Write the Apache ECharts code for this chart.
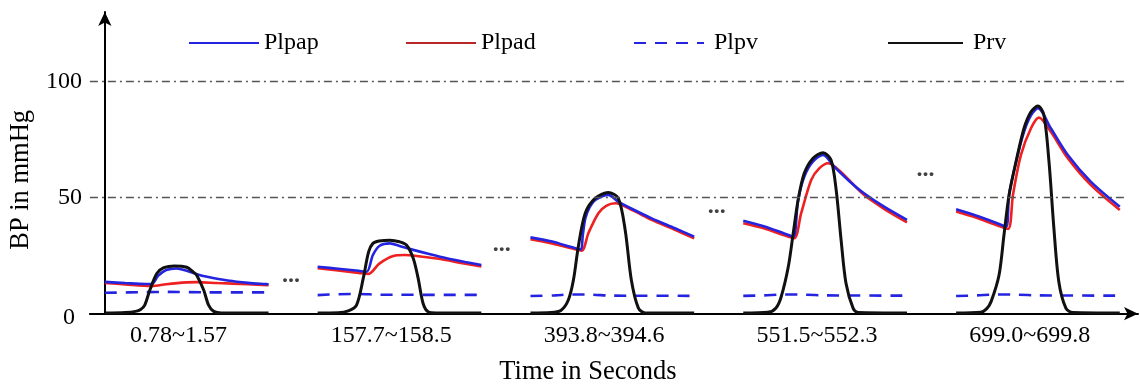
<!DOCTYPE html>
<html>
<head>
<meta charset="utf-8">
<script src="https://cdn.jsdelivr.net/npm/echarts@6/dist/echarts.min.js"></script>
<style>
  html, body { margin: 0; padding: 0; background: #fff; }
  #chart { width: 1140px; height: 391px; }
</style>
</head>
<body>
<div id="chart"></div>
<script>
// one label per recorded beat window (seconds)
const segLabels = ['0.78~1.57', '157.7~158.5', '393.8~394.6', '551.5~552.3', '699.0~699.8']
const yTicks = [0, 50, 100]
const gridValues = [50, 100]

// [time within window (s), mmHg], one list per window
const prv = [
  [[0, 0.3], [0.1, 0.5], [0.15, 1.0], [0.175, 1.8], [0.195, 3.7], [0.22, 10.2], [0.254, 17.3], [0.288, 19.8], [0.34, 20.6], [0.4, 20], [0.434, 17.8], [0.449, 16.6], [0.483, 10.2], [0.507, 3.7], [0.532, 1.0], [0.57, 0.3], [0.8, 0.3]],
  [[0, 0.3], [0.1, 0.4], [0.15, 1.2], [0.19, 3.7], [0.223, 15.3], [0.249, 26.6], [0.27, 30.3], [0.3, 31.3], [0.353, 31.7], [0.4, 31], [0.434, 29.6], [0.467, 23.9], [0.491, 15.3], [0.515, 4.5], [0.54, 0.8], [0.58, 0.3], [0.8, 0.3]],
  [[0, 0.3], [0.1, 0.5], [0.15, 1.5], [0.185, 5.9], [0.21, 14.5], [0.234, 29], [0.268, 43.4], [0.317, 49.8], [0.38, 52.2], [0.429, 49.8], [0.463, 36], [0.493, 14.5], [0.527, 2.5], [0.561, 0.3], [0.8, 0.3]],
  [[0, 0.3], [0.12, 0.6], [0.16, 2.5], [0.185, 7.2], [0.22, 20.2], [0.244, 34.6], [0.268, 49], [0.298, 60.5], [0.341, 67], [0.39, 69.4], [0.429, 66.2], [0.454, 53.3], [0.478, 31.8], [0.502, 13.1], [0.537, 2.3], [0.561, 0.5], [0.8, 0.3]],
  [[0, 0.3], [0.12, 0.6], [0.15, 2.2], [0.171, 5.2], [0.21, 16.7], [0.234, 33.9], [0.259, 51.2], [0.293, 65.5], [0.332, 79.9], [0.366, 87], [0.4, 89.5], [0.429, 85.6], [0.454, 65.5], [0.478, 36.8], [0.502, 13.8], [0.537, 2.3], [0.571, 0.5], [0.8, 0.3]],
]
const plpap = [
  [[0, 13.7], [0.1, 13.2], [0.2, 12.8], [0.23, 12.8], [0.26, 16.3], [0.3, 18.8], [0.35, 19.5], [0.4, 18.5], [0.45, 17], [0.5, 15.9], [0.6, 14.3], [0.7, 13.3], [0.8, 12.7]],
  [[0, 20.2], [0.1, 19.4], [0.2, 18.5], [0.24, 18.1], [0.27, 25.3], [0.303, 29.3], [0.353, 30.3], [0.4, 29.2], [0.467, 27.5], [0.55, 25.6], [0.63, 23.9], [0.72, 22.3], [0.8, 21.0]],
  [[0, 32.9], [0.1, 31.2], [0.2, 28.7], [0.244, 27.7], [0.256, 34], [0.268, 41], [0.29, 46], [0.317, 49], [0.38, 51.2], [0.429, 48.3], [0.5, 45], [0.592, 41.1], [0.706, 36.8], [0.8, 33.2]],
  [[0, 40.1], [0.1, 37.7], [0.2, 34.6], [0.244, 33.2], [0.268, 49], [0.298, 59], [0.34, 65.5], [0.39, 68.4], [0.444, 63.4], [0.52, 57], [0.59, 51.9], [0.688, 46.1], [0.8, 40.4]],
  [[0, 45], [0.1, 42.2], [0.2, 39], [0.244, 37.5], [0.259, 51.2], [0.293, 65.5], [0.332, 78.4], [0.366, 85.5], [0.4, 88.5], [0.463, 79.9], [0.546, 68.4], [0.658, 56.9], [0.8, 46.1]],
]
const plpad = [
  [[0, 13.3], [0.1, 12.6], [0.23, 11.9], [0.3, 12.7], [0.4, 13.5], [0.45, 13.6], [0.55, 13.2], [0.7, 12.7], [0.8, 12.3]],
  [[0, 19.6], [0.1, 18.6], [0.2, 17.6], [0.247, 17.1], [0.303, 21.7], [0.37, 24.9], [0.426, 25.3], [0.5, 24.7], [0.6, 23.6], [0.7, 21.9], [0.8, 20.3]],
  [[0, 32.1], [0.1, 30.4], [0.2, 28.2], [0.25, 27.2], [0.283, 34.7], [0.332, 43.3], [0.37, 46.5], [0.415, 47.6], [0.5, 44.5], [0.592, 40.4], [0.706, 36.2], [0.8, 32.5]],
  [[0, 39], [0.1, 36.8], [0.2, 33.8], [0.249, 32.5], [0.283, 43.3], [0.332, 57.6], [0.37, 62.5], [0.415, 64.8], [0.478, 61], [0.59, 51.2], [0.688, 45.2], [0.8, 39.4]],
  [[0, 44], [0.1, 41.3], [0.2, 38.1], [0.254, 36.5], [0.278, 51.2], [0.317, 68.4], [0.366, 79.9], [0.405, 84.5], [0.463, 78.4], [0.546, 67], [0.658, 55.5], [0.8, 44.7]],
]
const plpv = [
  [[0, 9.0], [0.2, 9.3], [0.3, 9.4], [0.5, 9.2], [0.8, 9.2]],
  [[0, 8.0], [0.1, 8.4], [0.2, 8.5], [0.3, 8.2], [0.8, 8.1]],
  [[0, 7.6], [0.12, 7.9], [0.2, 8.3], [0.3, 8.2], [0.4, 7.8], [0.8, 7.7]],
  [[0, 7.7], [0.1, 7.9], [0.2, 8.3], [0.3, 8.2], [0.4, 7.9], [0.8, 7.8]],
  [[0, 7.6], [0.1, 7.9], [0.2, 8.3], [0.3, 8.2], [0.4, 7.9], [0.8, 7.8]],
]
// "..." marks between windows [x, mmHg]
const gapMarks = [[0.91, 13.8], [1.94, 27], [2.99, 43.3], [4.01, 59.5]]

const SEG_STEP = 1.04
const LABEL_T = 0.36
const X_MIN = -0.073
const X_MAX = 5.049
const GRID_END = 4.985
const FONT = "'Liberation Serif', 'Times New Roman', serif"
const BLUE = '#2424e0'
const RED = '#ee2020'
const BLACK = '#111111'

const myChart = echarts.init(document.getElementById('chart'))

const defs = [
  { name: 'Plpv', data: plpv, color: BLUE, width: 2.6, type: [12, 9] },
  { name: 'Plpad', data: plpad, color: RED, width: 2.6, type: 'solid' },
  { name: 'Plpap', data: plpap, color: BLUE, width: 2.6, type: 'solid' },
  { name: 'Prv', data: prv, color: BLACK, width: 3, type: 'solid' },
]

const series = []
defs.forEach((d) => {
  d.data.forEach((seg, i) => {
    series.push({
      type: 'line',
      name: d.name,
      data: seg.map(([t, v]) => [i * SEG_STEP + t, v]),
      symbol: 'none',
      showSymbol: false,
      smooth: 0.3,
      lineStyle: { color: d.color, width: d.width, type: d.type },
      itemStyle: { color: d.color },
    })
  })
})

// dash-dot grid lines
series[0].markLine = {
  silent: true,
  symbol: 'none',
  label: { show: false },
  lineStyle: { color: '#555', width: 1.4, type: [8, 4, 2, 4] },
  data: gridValues.map((v) => [{ coord: [X_MIN, v] }, { coord: [GRID_END, v] }]),
}

series.push({
  type: 'scatter',
  data: gapMarks,
  symbolSize: 1,
  silent: true,
  itemStyle: { color: 'rgba(0,0,0,0)' },
  label: {
    show: true,
    position: 'inside',
    formatter: '...',
    fontSize: 24,
    fontWeight: 'bold',
    fontFamily: FONT,
    color: '#111',
    offset: [0, -6],
  },
})

const legendBase = {
  top: 31,
  padding: 0,
  itemHeight: 14,
  itemStyle: { opacity: 0, color: 'rgba(0,0,0,0)', borderWidth: 0 },
  textStyle: { fontSize: 24, fontFamily: FONT, color: '#000' },
}

const option = {
  animation: false,
  backgroundColor: '#fff',
  grid: { left: 88, right: 2, top: 12, bottom: 77.3, containLabel: false },
  legend: [
    { ...legendBase, left: 188, itemWidth: 70, data: ['Plpap'] },
    { ...legendBase, left: 405, itemWidth: 70, data: ['Plpad'], lineStyle: { color: '#b82828' } },
    { ...legendBase, left: 633, itemWidth: 70, data: ['Plpv'], textStyle: { ...legendBase.textStyle, padding: [0, 0, 0, 5] } },
    { ...legendBase, left: 887, itemWidth: 75, data: ['Prv'], textStyle: { ...legendBase.textStyle, padding: [0, 0, 0, 5] } },
  ],
  xAxis: {
    type: 'value',
    min: X_MIN,
    max: X_MAX,
    name: 'Time in Seconds',
    nameLocation: 'middle',
    nameGap: 45,
    nameTextStyle: { fontSize: 26.5, fontFamily: FONT, color: '#000', padding: [0, 52, 0, 0] },
    axisLine: { lineStyle: { color: '#000', width: 2 }, symbol: ['none', 'arrow'], symbolSize: [10, 14] },
    axisTick: { show: false },
    splitLine: { show: false },
    axisLabel: {
      customValues: segLabels.map((_, i) => i * SEG_STEP + LABEL_T),
      formatter: (v) => segLabels[Math.round((v - LABEL_T) / SEG_STEP)],
      margin: 10,
      fontSize: 24,
      fontFamily: FONT,
      color: '#000',
    },
  },
  yAxis: {
    type: 'value',
    min: 0,
    max: 130,
    name: 'BP in mmHg',
    nameLocation: 'middle',
    nameGap: 47,
    nameTextStyle: { fontSize: 26.5, fontFamily: FONT, color: '#000', padding: [0, 34, 0, 0] },
    axisLine: { show: true, lineStyle: { color: '#000', width: 2 }, symbol: ['none', 'arrow'], symbolSize: [10, 14] },
    axisTick: { show: false },
    splitLine: { show: false },
    axisLabel: {
      customValues: yTicks,
      formatter: (v) => (v === 0 ? '{zero|0}' : String(v)),
      margin: 8,
      fontSize: 24,
      fontFamily: FONT,
      color: '#000',
      rich: { zero: { fontSize: 24, fontFamily: FONT, color: '#000', padding: [8, 7, 0, 0] } },
    },
  },
  series,
}

myChart.setOption(option)
</script>
</body>
</html>
